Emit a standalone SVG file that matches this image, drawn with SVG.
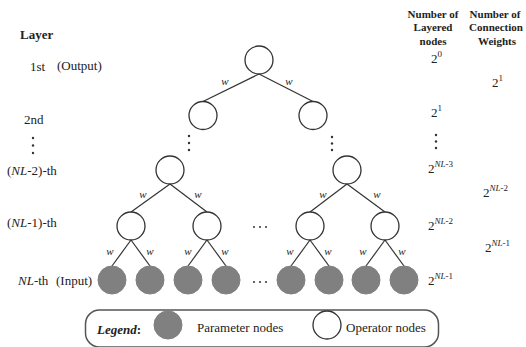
<svg xmlns="http://www.w3.org/2000/svg" width="526" height="347" viewBox="0 0 526 347" font-family="'Liberation Serif', 'Times New Roman', serif">
<style>
svg, text, tspan{font-family:'Liberation Serif','Times New Roman',serif}
text{fill:#222}
.lbl{font-size:13px}
.hdr{font-size:11px;font-weight:bold;text-anchor:middle}
.w{font-size:11px;font-style:italic;text-anchor:middle}
.sup{font-size:9px;font-style:italic}
.supn{font-size:9px;font-style:normal}
.op{fill:#fff;stroke:#333;stroke-width:1.3}
.par{fill:#808080;stroke:#808080;stroke-width:1}
.edge{stroke:#333;stroke-width:1.2;fill:none}
.dot{fill:#333}
</style>
<rect width="526" height="347" fill="#fff"/>

<!-- left labels -->
<g id="layer-labels">
<text class="lbl" x="20" y="39" font-weight="bold">Layer</text>
<text class="lbl" x="30" y="71">1st</text>
<text class="lbl" x="57" y="70">(Output)</text>
<text class="lbl" x="24" y="124">2nd</text>
<circle class="dot" cx="33" cy="138" r="1.2"/><circle class="dot" cx="33" cy="145.5" r="1.2"/><circle class="dot" cx="33" cy="153" r="1.2"/>
<text class="lbl" x="7" y="175">(<tspan font-style="italic">NL</tspan>-2)-th</text>
<text class="lbl" x="7" y="227">(<tspan font-style="italic">NL</tspan>-1)-th</text>
<text class="lbl" x="18" y="285"><tspan font-style="italic">NL</tspan>-th</text>
<text class="lbl" x="56" y="285">(Input)</text>
</g>

<!-- right columns -->
<g id="col-nodes">
<text class="hdr" x="433" y="18">Number of</text>
<text class="hdr" x="433" y="31">Layered</text>
<text class="hdr" x="433" y="45">nodes</text>
<text class="lbl" x="431" y="63">2<tspan class="supn" dy="-6">0</tspan></text>
<text class="lbl" x="431" y="117">2<tspan class="supn" dy="-6">1</tspan></text>
<circle class="dot" cx="436" cy="135" r="1.2"/><circle class="dot" cx="436" cy="141.5" r="1.2"/><circle class="dot" cx="436" cy="148" r="1.2"/>
<text class="lbl" x="428" y="173">2<tspan class="sup" dy="-6">NL</tspan><tspan class="supn">-3</tspan></text>
<text class="lbl" x="428" y="230">2<tspan class="sup" dy="-6">NL</tspan><tspan class="supn">-2</tspan></text>
<text class="lbl" x="428" y="285">2<tspan class="sup" dy="-6">NL</tspan><tspan class="supn">-1</tspan></text>
</g>
<g id="col-weights">
<text class="hdr" x="495" y="18">Number of</text>
<text class="hdr" x="496" y="31">Connection</text>
<text class="hdr" x="497" y="45">Weights</text>
<text class="lbl" x="492" y="87">2<tspan class="supn" dy="-6">1</tspan></text>
<text class="lbl" x="483" y="197">2<tspan class="sup" dy="-6">NL</tspan><tspan class="supn">-2</tspan></text>
<text class="lbl" x="485" y="252">2<tspan class="sup" dy="-6">NL</tspan><tspan class="supn">-1</tspan></text>
</g>

<!-- connectors -->
<g id="connectors">
<line class="edge" x1="259" y1="74" x2="203" y2="101.5"/>
<line class="edge" x1="259" y1="74" x2="313" y2="101.5"/>
<line class="edge" x1="170" y1="184" x2="131" y2="212"/>
<line class="edge" x1="170" y1="184" x2="207" y2="212"/>
<line class="edge" x1="131" y1="240" x2="112" y2="266"/>
<line class="edge" x1="131" y1="240" x2="150" y2="266"/>
<line class="edge" x1="207" y1="240" x2="188" y2="266"/>
<line class="edge" x1="207" y1="240" x2="226" y2="266"/>
<line class="edge" x1="347" y1="184" x2="310" y2="212"/>
<line class="edge" x1="347" y1="184" x2="385" y2="212"/>
<line class="edge" x1="310" y1="240" x2="291" y2="266"/>
<line class="edge" x1="310" y1="240" x2="329" y2="266"/>
<line class="edge" x1="385" y1="240" x2="366" y2="266"/>
<line class="edge" x1="385" y1="240" x2="404" y2="266"/>
<text class="w" x="225" y="85">w</text>
<text class="w" x="289" y="85">w</text>
<text class="w" x="143" y="198">w</text>
<text class="w" x="198" y="198">w</text>
<text class="w" x="323" y="198">w</text>
<text class="w" x="377" y="198">w</text>
<text class="w" x="110" y="255">w</text>
<text class="w" x="150" y="255">w</text>
<text class="w" x="188" y="255">w</text>
<text class="w" x="225" y="255">w</text>
<text class="w" x="290" y="255">w</text>
<text class="w" x="328" y="255">w</text>
<text class="w" x="363" y="255">w</text>
<text class="w" x="402" y="255">w</text>
</g>

<!-- nodes -->
<g id="n-top"><circle class="op" cx="259" cy="60" r="14"/></g>
<g id="n-2a"><circle class="op" cx="203" cy="115.5" r="14"/></g>
<g id="n-2b"><circle class="op" cx="313" cy="115.5" r="14"/></g>
<g id="dots-2">
<circle class="dot" cx="189" cy="136" r="1.2"/><circle class="dot" cx="189" cy="143" r="1.2"/><circle class="dot" cx="189" cy="150" r="1.2"/>
<circle class="dot" cx="332" cy="137" r="1.2"/><circle class="dot" cx="332" cy="143.5" r="1.2"/><circle class="dot" cx="332" cy="150" r="1.2"/>
</g>
<g id="n-nl2a"><circle class="op" cx="170" cy="170" r="14"/></g>
<g id="n-nl2b"><circle class="op" cx="347" cy="170" r="14"/></g>
<g id="n-nl1a"><circle class="op" cx="131" cy="226" r="14"/></g>
<g id="n-nl1b"><circle class="op" cx="207" cy="226" r="14"/></g>
<g id="n-nl1c"><circle class="op" cx="310" cy="226" r="14"/></g>
<g id="n-nl1d"><circle class="op" cx="385" cy="226" r="14"/></g>
<g id="ellipsis-nl1">
<circle class="dot" cx="254" cy="227" r="1"/><circle class="dot" cx="260" cy="227" r="1"/><circle class="dot" cx="266" cy="227" r="1"/>
</g>
<g id="leaf1"><circle class="par" cx="112" cy="280" r="14"/></g>
<g id="leaf2"><circle class="par" cx="150" cy="280" r="14"/></g>
<g id="leaf3"><circle class="par" cx="188" cy="280" r="14"/></g>
<g id="leaf4"><circle class="par" cx="226" cy="280" r="14"/></g>
<g id="ellipsis-leaf">
<circle class="dot" cx="254" cy="282" r="1"/><circle class="dot" cx="260" cy="282" r="1"/><circle class="dot" cx="266" cy="282" r="1"/>
</g>
<g id="leaf5"><circle class="par" cx="291" cy="280" r="14"/></g>
<g id="leaf6"><circle class="par" cx="329" cy="280" r="14"/></g>
<g id="leaf7"><circle class="par" cx="366" cy="280" r="14"/></g>
<g id="leaf8"><circle class="par" cx="404" cy="280" r="14"/></g>

<!-- legend -->
<g id="legend">
<rect x="85.5" y="310" width="353" height="37" rx="14" fill="none" stroke="#555" stroke-width="1.5"/>
<text class="lbl" x="97" y="334" font-weight="bold" font-style="italic">Legend<tspan font-style="normal">:</tspan></text>
<circle class="par" cx="168" cy="325" r="14"/>
<text class="lbl" x="197" y="332">Parameter nodes</text>
<circle class="op" cx="327" cy="325" r="14"/>
<text class="lbl" x="346" y="332">Operator nodes</text>
</g>
</svg>
